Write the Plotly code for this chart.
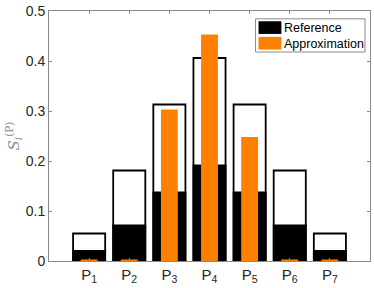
import plotly.graph_objects as go

categories = [1, 2, 3, 4, 5, 6, 7]
tick_labels = ["P<sub>1</sub>", "P<sub>2</sub>", "P<sub>3</sub>", "P<sub>4</sub>",
               "P<sub>5</sub>", "P<sub>6</sub>", "P<sub>7</sub>"]
total_ref = [0.055, 0.181, 0.313, 0.406, 0.313, 0.181, 0.055]
first_ref = [0.020, 0.071, 0.137, 0.191, 0.137, 0.071, 0.020]
approx = [0.003, 0.003, 0.303, 0.453, 0.248, 0.003, 0.003]
y_ticks = [0, 0.1, 0.2, 0.3, 0.4, 0.5]
y_tick_labels = ["0", "0.1", "0.2", "0.3", "0.4", "0.5"]

ORANGE = "#FF8000"
FONT = "Liberation Sans, Arial, Helvetica, sans-serif"
AXC = "#8a8a8a"
TXT = "#262626"

fig = go.Figure()
fig.add_trace(go.Bar(x=categories, y=total_ref, width=0.8,
                     marker=dict(color="white", line=dict(color="black", width=1.8)),
                     showlegend=False, name="Total"))
fig.add_trace(go.Bar(x=categories, y=first_ref, width=0.8,
                     marker=dict(color="black", line=dict(color="black", width=1.8)),
                     showlegend=False, name="Reference"))
fig.add_trace(go.Bar(x=categories, y=approx, width=0.42,
                     marker=dict(color=ORANGE, line=dict(width=0)),
                     showlegend=False, name="Approximation"))

# legend drawn in paper coordinates
shapes = []
W, H = 374, 288
ml, mr, mt, mb = 48.5, 3, 5, 27
pw, ph = W - ml - mr, H - mt - mb
def px(x):
    return (x - ml) / pw
def py(y):
    return 1 - (y - mt) / ph
shapes.append(dict(type="rect", xref="paper", yref="paper", x0=px(256), x1=px(366),
                   y0=py(47), y1=py(13), line=dict(color=AXC, width=1), fillcolor="white", layer="above"))
shapes.append(dict(type="rect", xref="paper", yref="paper", x0=px(259), x1=px(282),
                   y0=py(28.5), y1=py(15.5), line=dict(width=0), fillcolor="black", layer="above"))
shapes.append(dict(type="rect", xref="paper", yref="paper", x0=px(259), x1=px(282),
                   y0=py(44.5), y1=py(31.5), line=dict(width=0), fillcolor=ORANGE, layer="above"))
annotations = [
    dict(text="Reference", xref="paper", yref="paper", x=px(283), y=py(22.5),
         xanchor="left", yanchor="middle", showarrow=False, font=dict(family=FONT, size=12.5, color="black")),
    dict(text="Approximation", xref="paper", yref="paper", x=px(283), y=py(38.5),
         xanchor="left", yanchor="middle", showarrow=False, font=dict(family=FONT, size=12.5, color="black")),
]

fig.update_layout(
    width=W, height=H, barmode="overlay",
    margin=dict(l=ml, r=mr, t=mt, b=mb),
    paper_bgcolor="white", plot_bgcolor="white",
    font=dict(family=FONT, size=14, color=TXT),
    shapes=shapes, annotations=annotations,
    xaxis=dict(range=[0, 8], tickvals=categories, ticktext=tick_labels,
               showgrid=False, zeroline=False, showline=True, linecolor=AXC, linewidth=1,
               mirror="ticks", ticks="inside", ticklen=3, tickcolor=AXC,
               ticklabeloverflow="allow",
               tickfont=dict(family=FONT, size=15, color=TXT)),
    yaxis=dict(range=[0, 0.5], tickvals=y_ticks, ticktext=y_tick_labels,
               showgrid=False, zeroline=False, showline=True, linecolor=AXC, linewidth=1,
               mirror="ticks", ticks="inside", ticklen=3, tickcolor=AXC,
               ticklabeloverflow="allow",
               tickfont=dict(family=FONT, size=14, color=TXT),
               title=dict(text="<i>S</i><sub><i>i</i></sub><sup>(P)</sup>", standoff=2,
                          font=dict(family="DejaVu Serif, serif", size=15, color="#8c8c8c"))),
)

fig.write_html("out.html", config={"displayModeBar": False, "staticPlot": True})
with open("out.html", "r", encoding="utf-8") as f:
    html = f.read()
html = html.replace("<head>", "<head><style>html,body{margin:0;padding:0;overflow:hidden;}</style>", 1)
with open("out.html", "w", encoding="utf-8") as f:
    f.write(html)
